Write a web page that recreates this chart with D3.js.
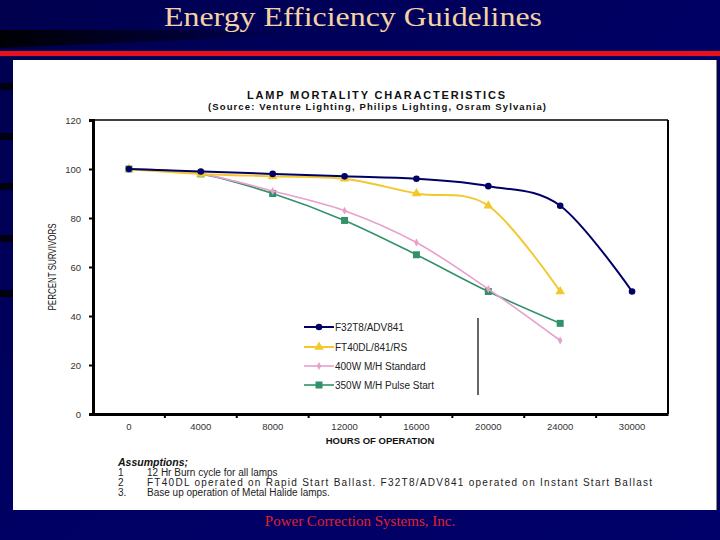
<!DOCTYPE html>
<html><head><meta charset="utf-8">
<script src="https://cdn.jsdelivr.net/npm/d3@7"></script>
<style>html,body{margin:0;padding:0;background:#000060;}svg{display:block;}</style>
</head><body>
<svg id="c" width="720" height="540"></svg>
<script>
const hours = ["0","4000","8000","12000","16000","20000","24000","30000"];
const yTicks = [0,20,40,60,80,100,120];
const seriesNames = ["F32T8/ADV841","FT40DL/841/RS","400W M/H Standard","350W M/H Pulse Start"];
const f32Values   = [100, 99, 98, 97, 96, 93, 85, 50];
const ft40Values  = [100, 98, 97, 96, 90, 85, 50, null];
const mh400Values = [100, 98, 91, 83, 70, 51, 30, null];
const mh350Values = [100, 98, 90, 79, 65, 50, 37, null];
const seriesColors = ["#000066","#f2c82c","#e8a0cc","#33916a"];
const assumptions = [
  ["1","12 Hr Burn cycle for all lamps"],
  ["2","FT40DL operated on Rapid Start Ballast.  F32T8/ADV841 operated on Instant Start Ballast"],
  ["3.","Base up operation of Metal Halide lamps."]
];

const svg = d3.select("#c");
const defs = svg.append("defs");
const bg = defs.append("linearGradient").attr("id","bg").attr("x1",0).attr("y1",0).attr("x2",1).attr("y2",1);
bg.append("stop").attr("offset","0%").attr("stop-color","#00004e");
bg.append("stop").attr("offset","50%").attr("stop-color","#000064");
bg.append("stop").attr("offset","100%").attr("stop-color","#00006a");
const st = defs.append("linearGradient").attr("id","streak").attr("x1",0).attr("y1",0).attr("x2",1).attr("y2",0);
st.append("stop").attr("offset","0%").attr("stop-color","#000000").attr("stop-opacity",0.95);
st.append("stop").attr("offset","60%").attr("stop-color","#000010").attr("stop-opacity",0.5);
st.append("stop").attr("offset","100%").attr("stop-color","#000030").attr("stop-opacity",0);

svg.append("rect").attr("width",720).attr("height",540).attr("fill","url(#bg)");
svg.append("path").attr("d","M0,30 L300,30 L300,35 L0,48 Z").attr("fill","url(#streak)");
[83,133,183,235,290].forEach(y=>svg.append("rect").attr("x",0).attr("y",y).attr("width",13).attr("height",7).attr("fill","#000010"));

svg.append("text").attr("x",353).attr("y",26).attr("text-anchor","middle")
  .attr("font-family","Liberation Serif, Times New Roman, serif").attr("font-size",27)
  .attr("textLength",378).attr("lengthAdjust","spacingAndGlyphs")
  .attr("fill","#f4d2a2").text("Energy Efficiency Guidelines");

svg.append("rect").attr("x",0).attr("y",51).attr("width",720).attr("height",5).attr("fill","#e8101c");

svg.append("rect").attr("x",13).attr("y",60).attr("width",704).attr("height",450).attr("fill","#ffffff");
svg.append("line").attr("x1",717).attr("x2",717).attr("y1",60).attr("y2",510).attr("stroke","#111").attr("stroke-width",1);

// chart titles
svg.append("text").attr("x",376).attr("y",99).attr("text-anchor","middle")
  .attr("font-family","Liberation Sans, Arial, sans-serif").attr("font-weight","bold").attr("font-size",11)
  .attr("textLength",258).attr("fill","#111").text("LAMP MORTALITY CHARACTERISTICS");
svg.append("text").attr("x",377).attr("y",110).attr("text-anchor","middle")
  .attr("font-family","Liberation Sans, Arial, sans-serif").attr("font-weight","bold").attr("font-size",9.5)
  .attr("textLength",338).attr("fill","#111").text("(Source:  Venture Lighting, Philips Lighting, Osram Sylvania)");

const L=93, R=668, T=120, B=414;
const x = d3.scaleBand().domain(hours).range([L,R]);
const y = d3.scaleLinear().domain([0,120]).range([B,T]);

// frame
svg.append("line").attr("x1",L).attr("x2",R).attr("y1",T).attr("y2",T).attr("stroke","#000").attr("stroke-width",1.5);
svg.append("line").attr("x1",R).attr("x2",R).attr("y1",T).attr("y2",B).attr("stroke","#000").attr("stroke-width",2);

// y axis
const ya = svg.append("g").attr("transform",`translate(${L},0)`)
  .call(d3.axisLeft(y).tickValues(yTicks).tickSize(4).tickPadding(8));
ya.select(".domain").attr("stroke-width",3);
ya.selectAll("text").attr("font-family","Liberation Sans, Arial, sans-serif").attr("font-size",9.5).attr("fill","#333");
ya.selectAll(".tick line").attr("stroke-width",2);

// x axis with ticks between categories
const xa = svg.append("g").attr("transform",`translate(0,${B})`)
  .call(d3.axisBottom(x).tickSize(0).tickPadding(9));
xa.select(".domain").attr("stroke-width",3);
xa.selectAll("text").attr("font-family","Liberation Sans, Arial, sans-serif").attr("font-size",9.5).attr("fill","#333");
xa.selectAll(".btick").data(hours.slice(1)).enter().append("line")
  .attr("x1",d=>x(d)).attr("x2",d=>x(d)).attr("y1",0).attr("y2",4).attr("stroke","#000").attr("stroke-width",2);

svg.append("text").attr("x",380).attr("y",444).attr("text-anchor","middle")
  .attr("font-family","Liberation Sans, Arial, sans-serif").attr("font-weight","bold").attr("font-size",9.5)
  .attr("fill","#111").text("HOURS OF OPERATION");

svg.append("text").attr("transform","translate(56,267) rotate(-90)").attr("text-anchor","middle")
  .attr("font-family","Liberation Sans Narrow, Arial Narrow, Arial, sans-serif").attr("font-size",10)
  .attr("textLength",87).attr("lengthAdjust","spacingAndGlyphs").attr("fill","#111").text("PERCENT SURVIVORS");

// series
const allSeries = [f32Values, ft40Values, mh400Values, mh350Values];
const widths = [2, 2, 1.6, 1.6];
const cx = i => x(hours[i]) + x.bandwidth()/2;
const line = d3.line().defined(d=>d.v!=null).x(d=>cx(d.i)).y(d=>y(d.v)).curve(d3.curveCardinal.tension(0));

function marker(g, k, px, py, c){
  if(k===0) g.append("circle").attr("cx",px).attr("cy",py).attr("r",3.3).attr("fill",c);
  else if(k===1) g.append("path").attr("d",d3.symbol(d3.symbolTriangle,40)()).attr("transform",`translate(${px},${py})`).attr("fill",c);
  else if(k===2) g.append("path").attr("d",d3.symbol(d3.symbolDiamond,18)()).attr("transform",`translate(${px},${py})`).attr("fill",c);
  else g.append("rect").attr("x",px-3.5).attr("y",py-3.5).attr("width",7).attr("height",7).attr("fill",c);
}

[3,2,1,0].forEach(k=>{
  const data = allSeries[k].map((v,i)=>({i,v}));
  const g = svg.append("g");
  g.append("path").datum(data).attr("d",line).attr("fill","none").attr("stroke",seriesColors[k]).attr("stroke-width",widths[k]);
  data.filter(d=>d.v!=null).forEach(d=>marker(g,k,cx(d.i),y(d.v),seriesColors[k]));
});

// legend
const legY = [327,347,366,385];
seriesNames.forEach((n,k)=>{
  const g = svg.append("g");
  g.append("line").attr("x1",304).attr("x2",334).attr("y1",legY[k]).attr("y2",legY[k]).attr("stroke",seriesColors[k]).attr("stroke-width",widths[k]);
  marker(g,k,319,legY[k],seriesColors[k]);
  g.append("text").attr("x",335).attr("y",legY[k]+3.5).attr("font-family","Liberation Sans, Arial, sans-serif")
    .attr("font-size",10).attr("fill","#222").text(n);
});
svg.append("line").attr("x1",478).attr("x2",478).attr("y1",318).attr("y2",395).attr("stroke","#000").attr("stroke-width",1.2);

// assumptions
svg.append("text").attr("x",118).attr("y",466).attr("font-family","Liberation Sans, Arial, sans-serif")
  .attr("font-weight","bold").attr("font-style","italic").attr("font-size",10.5).attr("fill","#111").text("Assumptions;");
assumptions.forEach((a,i)=>{
  const yy = 476 + i*10;
  svg.append("text").attr("x",118).attr("y",yy).attr("font-family","Liberation Sans, Arial, sans-serif").attr("font-size",10).attr("fill","#222").text(a[0]);
  const t = svg.append("text").attr("x",147).attr("y",yy).attr("font-family","Liberation Sans, Arial, sans-serif").attr("font-size",10).attr("fill","#222").text(a[1]);
  if(i===1) t.attr("textLength",505).attr("lengthAdjust","spacing");
});

svg.append("text").attr("x",360).attr("y",526).attr("text-anchor","middle")
  .attr("font-family","Liberation Serif, Times New Roman, serif").attr("font-size",15)
  .attr("fill","#e0202a").text("Power Correction Systems, Inc.");
</script>
</body></html>
